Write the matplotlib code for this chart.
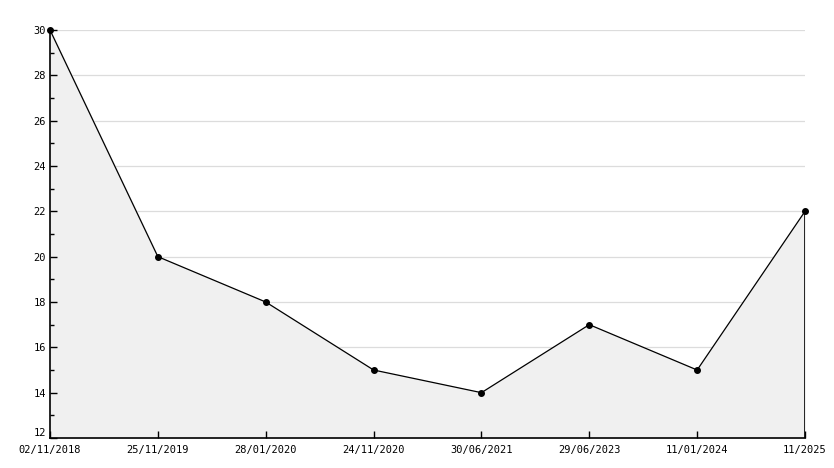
import matplotlib
matplotlib.use("Agg")
from matplotlib import pyplot as plt

# Chart data
labels = ["02/11/2018", "25/11/2019", "28/01/2020", "24/11/2020",
          "30/06/2021", "29/06/2023", "11/01/2024", "11/2025"]
values = [30, 20, 18, 15, 14, 17, 15, 22]
y_major = list(range(12, 31, 2))
y_minor = list(range(13, 30, 2))

plt.rcParams['font.family'] = ['DejaVu Sans Mono']

fig = plt.figure(figsize=(8.34, 4.68), dpi=100)
ax = fig.add_axes([50/834, 1 - 438/468, 755/834, 408/468])

x = list(range(len(values)))

# grid drawn by hand so it sits under the fill while ticks stay on top
for yv in y_major[1:]:
    ax.axhline(yv, color='#dcdcdc', lw=0.9, zorder=0.4)

ax.fill_between(x, values, 12, color='#f0f0f0', zorder=1)
ax.plot([x[-1], x[-1]], [12, values[-1]], color='black', lw=1.2, zorder=2)
ax.plot(x, values, color='black', lw=0.9, marker='o', markersize=4,
        zorder=3, clip_on=False)

ax.set_xlim(0, len(values) - 1)
ax.set_ylim(12, 30)
ax.set_yticks(y_major)
ax.set_yticks(y_minor, minor=True)
ax.set_xticks(x)
ax.set_xticklabels(labels)

for s in ['top', 'right']:
    ax.spines[s].set_visible(False)
for s in ['left', 'bottom']:
    ax.spines[s].set_linewidth(1.2)
    ax.spines[s].set_zorder(4)

ax.tick_params(axis='both', which='major', direction='in', length=5, width=1,
               labelsize=7.5, pad=3)
ax.tick_params(axis='y', which='minor', direction='in', length=3, width=1)
ax.tick_params(axis='x', pad=5)
# lowest y label sits a touch above the axis line, as in the original
ax.get_yticklabels()[0].set_verticalalignment('bottom')

fig.savefig("out.png", dpi=100)
